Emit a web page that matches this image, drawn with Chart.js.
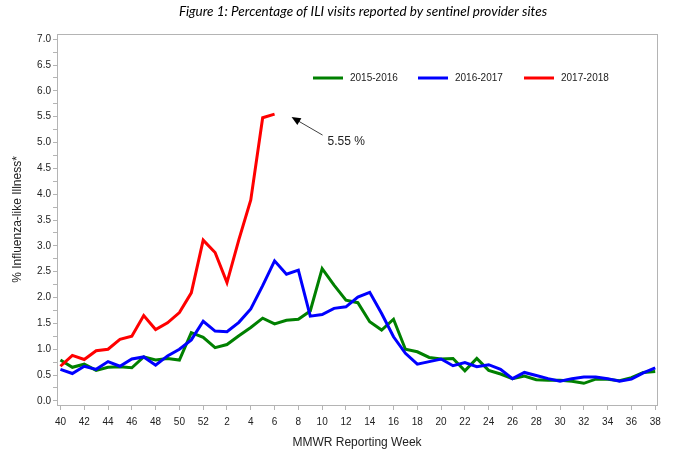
<!DOCTYPE html>
<html><head><meta charset="utf-8">
<script src="https://cdn.jsdelivr.net/npm/chart.js@4.4.1/dist/chart.umd.min.js"></script>
<style>html,body{margin:0;padding:0;background:#fff}canvas{display:block}</style>
</head><body>
<canvas id="c" width="676" height="475"></canvas>
<script>
const weekLabels = ['40','41','42','43','44','45','46','47','48','49','50','51','52',
  '1','2','3','4','5','6','7','8','9','10','11','12','13','14','15','16','17','18','19','20',
  '21','22','23','24','25','26','27','28','29','30','31','32','33','34','35','36','37','38'];
const seriesNames = ['2015-2016', '2016-2017', '2017-2018'];
const season2015 = [0.79,0.65,0.71,0.59,0.65,0.66,0.64,0.85,0.79,0.82,0.79,1.32,1.23,
  1.03,1.09,1.26,1.42,1.60,1.49,1.56,1.58,1.74,2.56,2.24,1.95,1.90,1.53,1.37,1.58,1.00,0.95,0.84,0.81,
  0.82,0.58,0.82,0.59,0.52,0.43,0.48,0.41,0.40,0.40,0.38,0.34,0.42,0.42,0.39,0.45,0.55,0.57];
const season2016 = [0.61,0.53,0.67,0.61,0.76,0.67,0.81,0.85,0.69,0.87,1.00,1.18,1.54,
  1.35,1.34,1.52,1.78,2.23,2.71,2.45,2.53,1.64,1.67,1.79,1.82,2.01,2.10,1.69,1.24,0.92,0.71,0.76,0.81,
  0.68,0.74,0.66,0.70,0.61,0.43,0.55,0.49,0.43,0.38,0.43,0.46,0.46,0.43,0.38,0.42,0.54,0.64];
const season2017 = [0.67,0.88,0.80,0.97,1.00,1.19,1.25,1.65,1.38,1.51,1.71,2.09,3.11,
  2.87,2.29,3.12,3.89,5.48,5.55];
const xTickIndices = [0,2,4,6,8,10,12,14,16,18,20,22,24,26,28,30,32,34,36,38,40,42,44,46,48,50];
const yTickValues = [0,0.25,0.5,0.75,1,1.25,1.5,1.75,2,2.25,2.5,2.75,3,3.25,3.5,3.75,4,4.25,4.5,4.75,5,5.25,5.5,5.75,6,6.25,6.5,6.75,7];
const yLabelValues = [0,0.5,1,1.5,2,2.5,3,3.5,4,4.5,5,5.5,6,6.5,7];
const titleText = 'Figure 1: Percentage of ILI visits reported by sentinel provider sites';
const peakLabel = '5.55 %';
const colors = ['#008000', '#0000ff', '#ff0000'];

const toPoints = arr => arr.map((v, i) => ({x: i, y: v}));
const axisColor = '#b4b4b4';
const tickFont = {family: 'Liberation Sans, Arial, sans-serif', size: 10};

const framePlugin = {
  id: 'frame',
  afterDraw(chart) {
    const {ctx, chartArea: a} = chart;
    ctx.save();
    ctx.strokeStyle = axisColor;
    ctx.lineWidth = 1;
    ctx.strokeRect(Math.round(a.left) + 0.5, Math.round(a.top) + 0.5,
      Math.round(a.right - a.left), Math.round(a.bottom - a.top));
    ctx.restore();
  }
};

const titlePlugin = {
  id: 'figTitle',
  afterDraw(chart) {
    const ctx = chart.ctx;
    ctx.save();
    ctx.font = 'italic 13.5px Lato, sans-serif';
    ctx.fillStyle = '#000';
    ctx.textAlign = 'center';
    ctx.textBaseline = 'middle';
    ctx.fillText(titleText, 363, 12);
    ctx.restore();
  }
};

const legendPlugin = {
  id: 'inLegend',
  afterDraw(chart) {
    const ctx = chart.ctx;
    const starts = [313, 418, 524];
    const y = 78;
    ctx.save();
    ctx.font = '10px Liberation Sans, Arial, sans-serif';
    ctx.textBaseline = 'middle';
    ctx.textAlign = 'left';
    seriesNames.forEach((name, i) => {
      ctx.strokeStyle = colors[i];
      ctx.lineWidth = 3;
      ctx.beginPath();
      ctx.moveTo(starts[i], y);
      ctx.lineTo(starts[i] + 30, y);
      ctx.stroke();
      ctx.fillStyle = '#222';
      ctx.fillText(name, starts[i] + 37, y);
    });
    ctx.restore();
  }
};

const arrowPlugin = {
  id: 'peakArrow',
  afterDraw(chart) {
    const ctx = chart.ctx;
    const xs = chart.scales.x, ys = chart.scales.y;
    const last = season2017.length - 1;
    const px = xs.getPixelForValue(last), py = ys.getPixelForValue(season2017[last]);
    const hx = px + 17, hy = py + 3;
    const tx = px + 48, ty = py + 21;
    const ang = Math.atan2(hy - ty, hx - tx);
    ctx.save();
    ctx.strokeStyle = '#404040';
    ctx.lineWidth = 1;
    ctx.beginPath();
    ctx.moveTo(tx, ty);
    ctx.lineTo(hx - 6 * Math.cos(ang), hy - 6 * Math.sin(ang));
    ctx.stroke();
    ctx.fillStyle = '#000';
    ctx.beginPath();
    ctx.moveTo(hx, hy);
    ctx.lineTo(hx - 9 * Math.cos(ang) + 4 * Math.sin(ang), hy - 9 * Math.sin(ang) - 4 * Math.cos(ang));
    ctx.lineTo(hx - 9 * Math.cos(ang) - 4 * Math.sin(ang), hy - 9 * Math.sin(ang) + 4 * Math.cos(ang));
    ctx.closePath();
    ctx.fill();
    ctx.font = '12px Liberation Sans, Arial, sans-serif';
    ctx.fillStyle = '#222';
    ctx.textAlign = 'left';
    ctx.textBaseline = 'middle';
    ctx.fillText(peakLabel, tx + 5, ty + 7);
    ctx.restore();
  }
};

new Chart(document.getElementById('c'), {
  type: 'line',
  data: {
    datasets: [
      {label: seriesNames[0], data: toPoints(season2015), borderColor: colors[0], order: 3},
      {label: seriesNames[1], data: toPoints(season2016), borderColor: colors[1], order: 2},
      {label: seriesNames[2], data: toPoints(season2017), borderColor: colors[2], order: 1}
    ]
  },
  options: {
    responsive: false,
    animation: false,
    devicePixelRatio: 1,
    layout: {padding: {left: 0, right: 19, top: 34, bottom: 0}},
    elements: {
      line: {borderWidth: 3, tension: 0, fill: false, borderJoinStyle: 'miter'},
      point: {radius: 0, hoverRadius: 0}
    },
    plugins: {legend: {display: false}, tooltip: {enabled: false}, title: {display: false}},
    scales: {
      x: {
        type: 'linear',
        min: -0.29,
        max: 50.15,
        afterFit(s) { s.height = 70; },
        afterBuildTicks(s) { s.ticks = xTickIndices.map(v => ({value: v})); },
        grid: {drawOnChartArea: false, drawTicks: true, tickLength: 5, color: axisColor},
        border: {color: axisColor},
        ticks: {
          autoSkip: false, maxRotation: 0, padding: 6, color: '#222', font: tickFont,
          callback: v => weekLabels[v]
        },
        title: {
          display: true, text: 'MMWR Reporting Week', color: '#222',
          font: {family: 'Liberation Sans, Arial, sans-serif', size: 12},
          padding: {top: 0, bottom: 25}
        }
      },
      y: {
        type: 'linear',
        min: -0.08,
        max: 7.1,
        afterFit(s) { s.width = 57; },
        afterBuildTicks(s) { s.ticks = yTickValues.map(v => ({value: v})); },
        grid: {drawOnChartArea: false, drawTicks: true, tickLength: 4, color: axisColor},
        border: {color: axisColor},
        ticks: {
          autoSkip: false, padding: 2, color: '#222', font: tickFont,
          callback: v => yLabelValues.includes(v) ? v.toFixed(1) : ''
        },
        title: {
          display: true, text: '% Influenza-like Illness*', color: '#222',
          font: {family: 'Liberation Sans, Arial, sans-serif', size: 12},
          padding: {top: 10, bottom: 0}
        }
      }
    }
  },
  plugins: [framePlugin, titlePlugin, legendPlugin, arrowPlugin]
});
</script>
</body></html>
